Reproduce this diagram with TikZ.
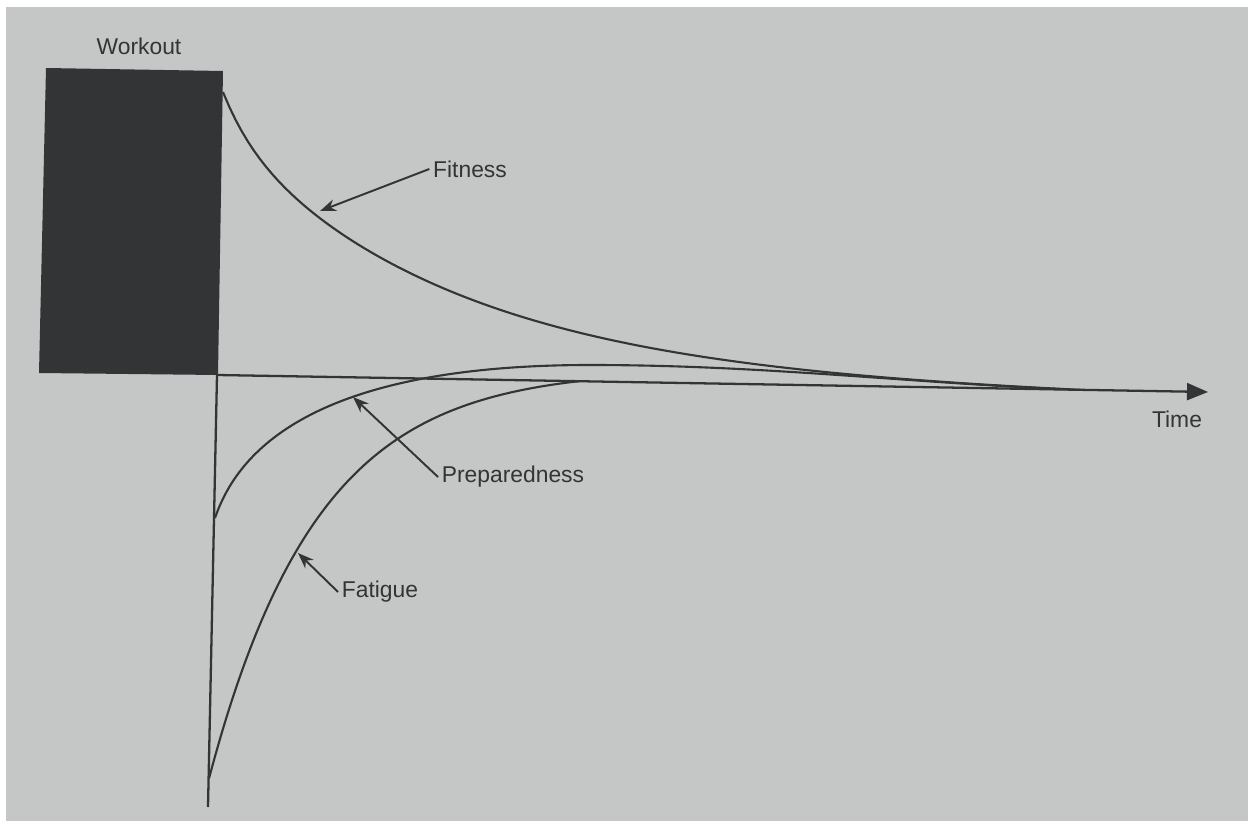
\documentclass[tikz,border=0pt]{standalone}
\usepackage{fontspec}
\setmainfont{Liberation Sans}
\usetikzlibrary{positioning, arrows.meta, calc}
\definecolor{pagegray}{RGB}{197,198,198}
\definecolor{ink}{RGB}{50,52,54}

\begin{document}
\begin{tikzpicture}[
        x=0.02cm, y=-0.02cm,
        >={Stealth[length=3.2mm, width=2.4mm]},
        curve/.style={ink, line width=1.2pt, line join=round},
        axisline/.style={ink, line width=1.3pt},
        tag/.style={text=ink, font=\fontsize{13}{15}\selectfont, inner sep=2pt},
        pointer/.style={->, ink, line width=1.1pt},
    ]
    
        % Page and frame
        \fill[white] (0,0) rectangle (1253,827);
        \fill[pagegray] (6,7) rectangle (1248,821);
        \useasboundingbox (0,0) rectangle (1253,827);
    
        % Workout block
        \coordinate (W-tl) at (46,68);
        \coordinate (W-tr) at (223,71);
        \coordinate (W-br) at (218,375);
        \coordinate (W-bl) at (39,373);
        \fill[ink] (W-tl) -- (W-tr) -- (W-br) -- (W-bl) -- cycle;
        \node[tag] (workout) at (139,46) {Workout};
    
        % Axes
        \coordinate (origin) at (217,375);
        \coordinate (time-end) at (1208,392);
        \coordinate (down-end) at (208,807);
        \draw[axisline, -{Triangle[length=4.2mm, width=3.4mm]}] (origin) -- (time-end);
        \draw[axisline] (origin) -- (down-end);
        \node[tag] (time) at (1177,419) {Time};
    
        % Fitness
        \draw[curve] plot[domain=223:1080, samples=140]
            ({\x}, {375+0.01715*(\x-217)-240*exp(-(\x-223)/230)-43*exp(-(\x-223)/30)+5.8*(\x-223)/857});
    
        % Preparedness
        \coordinate (P-start) at (215,518);
        \coordinate (P-peak) at (590,365);
        \coordinate (P-end) at (1060,389);
        \draw[curve] (P-start) .. controls (235,460) and (300,365) .. (P-peak)
                              .. controls (760,365) and (900,382) .. (P-end);
    
        % Fatigue
        \draw[curve] plot[domain=209:579, samples=120]
            ({\x}, {375+0.01715*(\x-217)+418*(exp(-(\x-209)/110)-0.0346)});
    
        % Labels and pointers
        \node[tag] (fitness) at (470,169) {Fitness};
        \node[tag] (preparedness) at (513,477) {Preparedness};
        \node[tag] (fatigue) at (380,592) {Fatigue};
    
        \coordinate (fitness-tip) at (320,211);
        \coordinate (preparedness-tip) at (353,397);
        \coordinate (fatigue-tip) at (298,553);
    
        \draw[pointer] (fitness.west) -- (fitness-tip);
        \draw[pointer] (preparedness.west) -- (preparedness-tip);
        \draw[pointer] (fatigue.west) -- (fatigue-tip);
            \end{tikzpicture}
\end{document}
